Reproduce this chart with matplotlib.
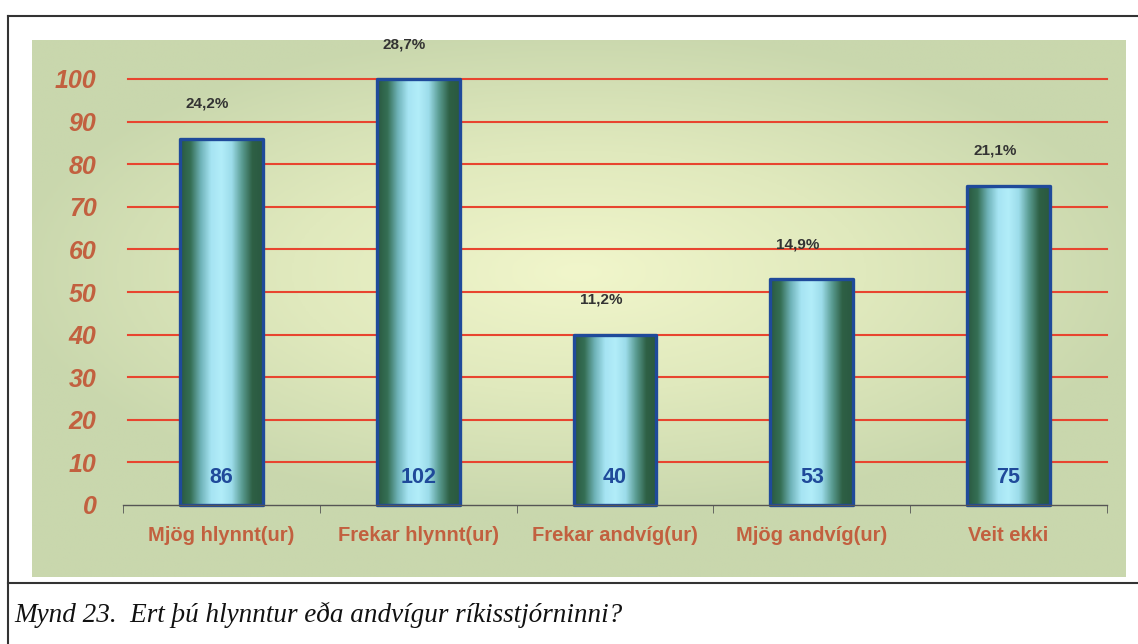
import matplotlib.pyplot as plt
import numpy as np
from matplotlib.colors import LinearSegmentedColormap
from matplotlib.lines import Line2D

categories = ['Mjög hlynnt(ur)', 'Frekar hlynnt(ur)', 'Frekar andvíg(ur)',
              'Mjög andvíg(ur)', 'Veit ekki']
counts = [86, 102, 40, 53, 75]
percents = ['24,2%', '28,7%', '11,2%', '14,9%', '21,1%']
y_ticks = [0, 10, 20, 30, 40, 50, 60, 70, 80, 90, 100]
caption = 'Mynd 23.  Ert þú hlynntur eða andvígur ríkisstjórninni?'

label_color = '#c2603f'
grid_color = '#e8452f'
edge_color = '#1f4a9a'

fig = plt.figure(figsize=(11.38, 6.44), dpi=100)
W, H = 1138, 644

# background panel with soft radial gradient
bg = fig.add_axes([32 / W, 1 - 577 / H, (1126 - 32) / W, (577 - 40) / H])
gx, gy = np.meshgrid(np.linspace(-1, 1, 300), np.linspace(-1, 1, 200))
r = np.clip(np.sqrt((gx * 0.95) ** 2 + (gy * 1.1 + 0.15) ** 2), 0, 1)
bg_cmap = LinearSegmentedColormap.from_list('bg', ['#f1f6cb', '#e0e9bd', '#c9d7ad'])
bg.imshow(r, cmap=bg_cmap, aspect='auto', extent=(0, 1, 0, 1), vmin=0, vmax=1)
bg.axis('off')

ax = fig.add_axes([123 / W, 1 - 505 / H, (1107 - 123) / W, (505 - 79) / H])
ax.set_facecolor('none')
x = np.arange(len(categories))
width = 0.42
heights = np.minimum(counts, 100)

bar_cmap = LinearSegmentedColormap.from_list(
    'bar', ['#2a5940', '#356f55', '#6fb3b8', '#a6e4f3', '#b2edf9', '#9cdcea',
            '#5a9c92', '#2e6045', '#2a5940'])
grad = np.linspace(0, 1, 200).reshape(1, -1)

for i, h in enumerate(heights):
    ax.imshow(grad, cmap=bar_cmap, aspect='auto', zorder=3,
              extent=(x[i] - width / 2, x[i] + width / 2, 0, h), clip_on=False)
ax.bar(x, heights, width, facecolor='none', edgecolor=edge_color,
       linewidth=2.4, zorder=4, clip_on=False, joinstyle='round')

for i, h in enumerate(heights):
    ax.text(x[i], 6.4, str(counts[i]), ha='center', va='center', zorder=5,
            fontsize=15.5, fontweight='bold', color=edge_color,
            family='Liberation Sans')
    ax.annotate(percents[i], (x[i], h), xytext=(-10, 25), textcoords='offset points',
                ha='center', va='center', fontsize=11, fontweight='bold',
                color='#333333', family='Liberation Sans')

for yv in y_ticks[1:]:
    ax.axhline(yv, xmin=0.005, xmax=1.0, color=grid_color, linewidth=1.5,
               zorder=2, clip_on=False)

ax.set_xlim(-0.5, len(categories) - 0.5)
ax.set_ylim(0, 100)
ax.set_yticks(y_ticks)
ax.set_yticklabels([str(v) for v in y_ticks])
ax.tick_params(axis='y', length=0, pad=19)
for lab in ax.get_yticklabels():
    lab.set_fontsize(18)
    lab.set_fontstyle('italic')
    lab.set_fontweight('bold')
    lab.set_color(label_color)
    lab.set_family('Liberation Sans')

ax.set_xticks(x)
ax.set_xticklabels(categories)
ax.set_xticks(np.arange(len(categories) + 1) - 0.5, minor=True)
ax.tick_params(axis='x', which='major', length=0, pad=15)
ax.tick_params(axis='x', which='minor', length=6, color='#555555', direction='out')
for lab in ax.get_xticklabels():
    lab.set_fontsize(14.5)
    lab.set_fontweight('bold')
    lab.set_color(label_color)
    lab.set_family('Liberation Sans')

for side in ['top', 'right', 'left']:
    ax.spines[side].set_visible(False)
ax.spines['bottom'].set_color('#555555')
ax.spines['bottom'].set_linewidth(1.0)
ax.spines['bottom'].set_zorder(6)

# frame lines
frame_kw = dict(color='#333333', linewidth=1.5, transform=fig.transFigure)
fig.add_artist(Line2D([8 / W, 1], [1 - 16 / H, 1 - 16 / H], **frame_kw))
fig.add_artist(Line2D([8 / W, 8 / W], [0, 1 - 16 / H], **frame_kw))
fig.add_artist(Line2D([8 / W, 1], [1 - 583 / H, 1 - 583 / H], **frame_kw))

fig.text(14 / W, 1 - 615 / H, caption, ha='left', va='center', fontsize=19.5,
         fontstyle='italic', family='Liberation Serif', color='#111111')

fig.savefig('out.png', dpi=100)
